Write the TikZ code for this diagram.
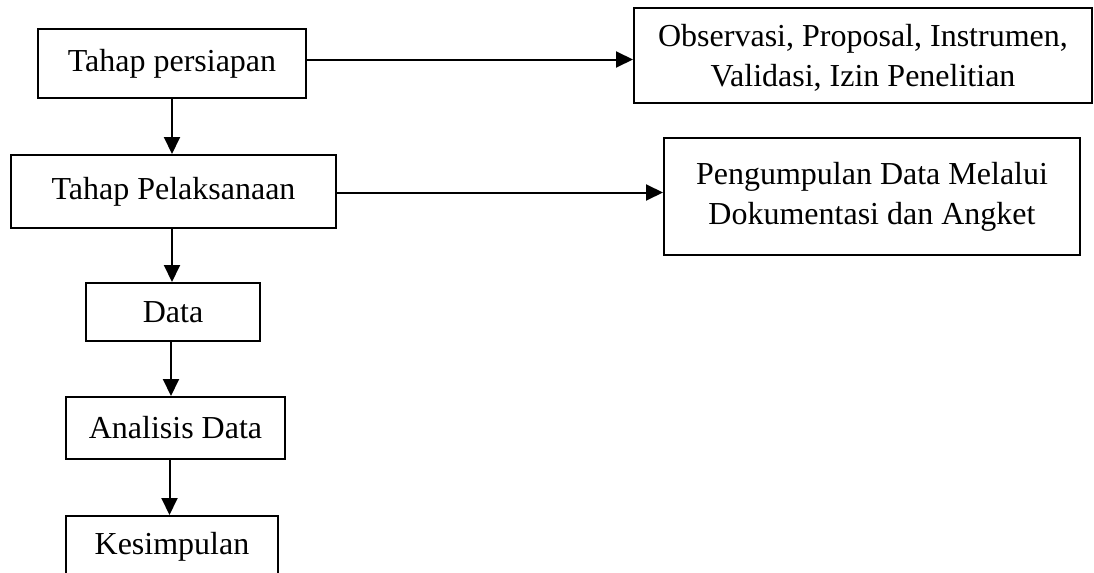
\documentclass[tikz,border=0pt]{standalone}
\usepackage{fontspec}
\setmainfont{Liberation Serif}
\usetikzlibrary{arrows.meta,positioning}

\tikzset{
    tahap/.style={draw, line width=1pt, inner sep=0pt, align=center,
        font=\fontsize{16}{20}\selectfont},
    panah/.style={line width=1pt, -{Triangle[length=8.5pt,width=8pt]}}
}

\begin{document}
\begin{tikzpicture}[x=0.5pt, y=-0.5pt]
    \useasboundingbox (0,0) rectangle (1094,573);
    \clip (0,0) rectangle (1094,573);
    % alur utama
    \node[tahap, minimum width=134pt, minimum height=34.5pt] (persiapan) at (172, 63.5) {Tahap persiapan};
    \node[tahap, minimum width=162.5pt, minimum height=36.5pt] (pelaksanaan) at (173.5, 191.5) {Tahap Pelaksanaan};
    \node[tahap, minimum width=87pt, minimum height=29pt] (data) at (173, 312) {Data};
    \node[tahap, minimum width=109.5pt, minimum height=31pt] (analisis) at (175.5, 428) {Analisis Data};
    \node[tahap, minimum width=106pt, minimum height=31pt] (kesimpulan) at (172, 547) {Kesimpulan};
    % keterangan
    \node[tahap, minimum width=229pt, minimum height=47.5pt, text depth=0pt] (observasi) at (863, 55.5) {Observasi, Proposal, Instrumen,\\Validasi, Izin Penelitian};
    \node[tahap, minimum width=208pt, minimum height=58.5pt] (pengumpulan) at (872, 196.5) {Pengumpulan Data Melalui\\Dokumentasi dan Angket};
    \draw[panah] (persiapan.south) -- (persiapan.south |- pelaksanaan.north);
    \draw[panah] (pelaksanaan.south -| persiapan.south) -- (persiapan.south |- data.north);
    \draw[panah] ([xshift=-1pt]data.south) -- ([xshift=-1pt]data.south |- analisis.north);
    \draw[panah] ([xshift=-3pt]analisis.south) -- ([xshift=-3pt]analisis.south |- kesimpulan.north);
    \draw[panah] ([yshift=2pt]persiapan.east) -- ([yshift=2pt]persiapan.east -| observasi.west);
    \draw[panah] ([yshift=-0.5pt]pelaksanaan.east) -- ([yshift=-0.5pt]pelaksanaan.east -| pengumpulan.west);
\end{tikzpicture}
\end{document}
